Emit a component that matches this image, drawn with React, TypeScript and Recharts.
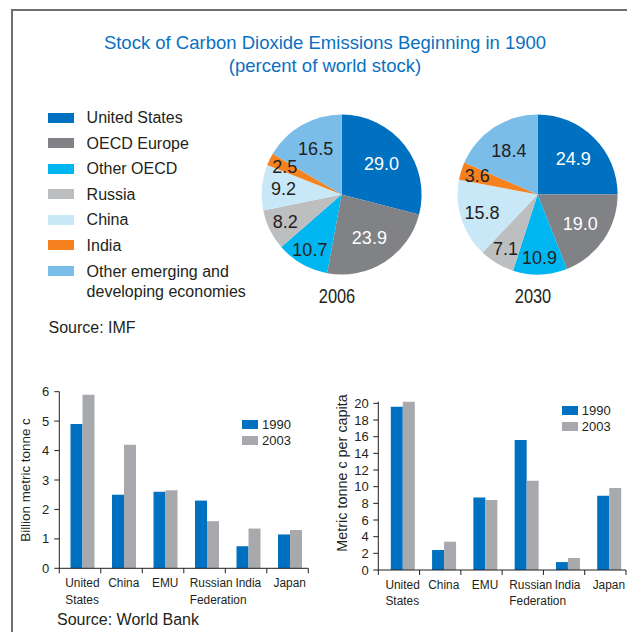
import React from 'react';
import { PieChart, Pie, Cell, BarChart, Bar, XAxis, YAxis } from 'recharts';

// ---------- data ----------
const regions = [
  'United States',
  'OECD Europe',
  'Other OECD',
  'Russia',
  'China',
  'India',
  'Other emerging and developing economies',
];
const share2006 = [29.0, 23.9, 10.7, 8.2, 9.2, 2.5, 16.5];
const share2030 = [24.9, 19.0, 10.9, 7.1, 15.8, 3.6, 18.4];
const pieYears = ['2006', '2030'];

const countries = ['United States', 'China', 'EMU', 'Russian Federation', 'India', 'Japan'];
const total1990 = [4.9, 2.5, 2.6, 2.3, 0.75, 1.15];
const total2003 = [5.9, 4.2, 2.65, 1.6, 1.35, 1.3];
const perCapita1990 = [19.6, 2.4, 8.7, 15.6, 0.95, 8.9];
const perCapita2003 = [20.2, 3.4, 8.4, 10.7, 1.45, 9.85];
const barYears = ['1990', '2003'];
const totalTicks = [0, 1, 2, 3, 4, 5, 6];
const perCapitaTicks = [0, 2, 4, 6, 8, 10, 12, 14, 16, 18, 20];

const title1 = 'Stock of Carbon Dioxide Emissions Beginning in 1900';
const title2 = '(percent of world stock)';
const sourceTop = 'Source: IMF';
const sourceBottom = 'Source: World Bank';
const yLabelTotal = 'Billion metric tonne c';
const yLabelPerCapita = 'Metric tonne c per capita';

// ---------- style ----------
const regionColors = ['#0070c0', '#808285', '#00b6f0', '#bcbec0', '#c8e8f8', '#f5821f', '#7abde8'];
const regionLabelColors = ['#ffffff', '#ffffff', '#231f20', '#231f20', '#231f20', '#231f20', '#231f20'];
const labelRadius = [0.63, 0.645, 0.8, 0.785, 0.73, 0.79, 0.655];
const barColors = ['#0070c0', '#a7a9ac'];
const FONT = '"Liberation Sans", Arial, Helvetica, sans-serif';
const INK = '#231f20';
const TITLE_BLUE = '#0a70c2';
const RAD = Math.PI / 180;

const pieData = [share2006, share2030].map((arr) =>
  arr.map((v, i) => ({ name: regions[i], value: v }))
);

const totalData = countries.map((c, i) => ({ country: c, y1990: total1990[i], y2003: total2003[i] }));
const perCapitaData = countries.map((c, i) => ({ country: c, y1990: perCapita1990[i], y2003: perCapita2003[i] }));

const renderPieLabel = (props: any) => {
  const { cx, cy, midAngle, outerRadius, index, value } = props;
  const r = outerRadius * labelRadius[index];
  const x = cx + r * Math.cos(-midAngle * RAD);
  const y = cy + r * Math.sin(-midAngle * RAD);
  return (
    <text
      x={x}
      y={y}
      textAnchor="middle"
      dominantBaseline="central"
      fill={regionLabelColors[index]}
      fontSize={18}
      fontFamily={FONT}
    >
      {Number(value).toFixed(1)}
    </text>
  );
};

function makeCategoryTick(band: number, shift: number, last: string) {
  return (props: any) => {
    const { x, y, payload } = props;
    const words = String(payload.value).split(' ');
    const left = x - shift - band / 2;
    const right = x - shift + band / 2;
    const multi = words.length > 1;
    const tx = multi ? x - 17 : x;
    return (
      <g>
        <line x1={left} y1={y} x2={left} y2={y + 5} stroke={INK} strokeWidth={1} />
        {payload.value === last && (
          <line x1={right} y1={y} x2={right} y2={y + 5} stroke={INK} strokeWidth={1} />
        )}
        <text
          transform={`translate(${tx},${y + 18.5}) scale(0.88,1)`}
          x={0}
          y={0}
          textAnchor={multi ? 'start' : 'middle'}
          fontSize={13.5}
          fontFamily={FONT}
          fill={INK}
        >
          {words.map((w, i) => (
            <tspan key={i} x={0} dy={i === 0 ? 0 : 17}>
              {w}
            </tspan>
          ))}
        </text>
      </g>
    );
  };
}

type PanelProps = {
  left: number;
  data: any[];
  width: number;
  height: number;
  margin: { top: number; right: number; bottom: number; left: number };
  yWidth: number;
  domain: [number, number];
  ticks: number[];
  band: number;
  shift: number;
  tickMargin: number;
};

function BarPanel(p: PanelProps) {
  return (
    <div style={{ position: 'absolute', left: p.left, top: 370 }}>
      <BarChart width={p.width} height={p.height} data={p.data} margin={p.margin} barGap={0} barSize={12}>
        <XAxis
          dataKey="country"
          height={40}
          interval={0}
          tickLine={false}
          tickSize={0}
          tickMargin={0}
          axisLine={{ stroke: INK, strokeWidth: 1 }}
          padding={{ left: p.shift, right: -p.shift }}
          tick={makeCategoryTick(p.band, p.shift, countries[countries.length - 1])}
        />
        <YAxis
          type="number"
          domain={p.domain}
          ticks={p.ticks}
          interval={0}
          width={p.yWidth}
          tickSize={5}
          tickMargin={p.tickMargin}
          axisLine={{ stroke: INK, strokeWidth: 1 }}
          tickLine={{ stroke: INK, strokeWidth: 1 }}
          tick={{ fill: INK, fontSize: 13, fontFamily: FONT }}
        />
        <Bar dataKey="y1990" fill={barColors[0]} isAnimationActive={false} />
        <Bar dataKey="y2003" fill={barColors[1]} isAnimationActive={false} />
      </BarChart>
    </div>
  );
}

function BarLegend({ left, top, gap }: { left: number; top: number; gap: number }) {
  return (
    <div style={{ position: 'absolute', left, top }}>
      {barYears.map((yr, i) => (
        <div key={yr} style={{ display: 'flex', alignItems: 'center', height: gap }}>
          <div style={{ width: 16, height: 9, background: barColors[i], marginRight: 4 }} />
          <span style={{ fontSize: 13, fontFamily: FONT, color: INK, lineHeight: '14px' }}>{yr}</span>
        </div>
      ))}
    </div>
  );
}

function RotatedLabel({ cx, cy, text, size }: { cx: number; cy: number; text: string; size: number }) {
  return (
    <div
      style={{
        position: 'absolute',
        left: cx,
        top: cy,
        transform: 'translate(-50%, -50%) rotate(-90deg)',
        whiteSpace: 'nowrap',
        fontSize: size,
        fontFamily: FONT,
        color: INK,
        lineHeight: `${size}px`,
      }}
    >
      {text}
    </div>
  );
}

export default function App() {
  const pieCenters = [336.6, 532.6];
  return (
    <div
      style={{
        position: 'absolute',
        left: 0,
        top: 0,
        width: 627,
        height: 632,
        background: '#fff',
        overflow: 'hidden',
        fontFamily: FONT,
      }}
    >
      {/* frame */}
      <div
        style={{
          position: 'absolute',
          left: 10.5,
          top: 9.3,
          width: 640,
          height: 640,
          borderTop: '2px solid #6d6e71',
          borderLeft: '2px solid #6d6e71',
        }}
      />
      {/* title */}
      <div
        style={{
          position: 'absolute',
          left: 75,
          width: 500,
          top: 32,
          textAlign: 'center',
          color: TITLE_BLUE,
          fontSize: 18.5,
          lineHeight: '22.5px',
        }}
      >
        <div>{title1}</div>
        <div>{title2}</div>
      </div>

      {/* pie legend */}
      <div style={{ position: 'absolute', left: 47.6, top: 108 }}>
        {regions.map((r, i) => (
          <div key={r} style={{ display: 'flex', alignItems: 'flex-start', height: 25.6 }}>
            <div
              style={{
                width: 26.5,
                height: 10,
                marginTop: 4.5,
                background: regionColors[i],
                flex: 'none',
              }}
            />
            <div
              style={{
                marginLeft: 12.5,
                width: 165,
                fontSize: 16,
                lineHeight: '20px',
                color: INK,
              }}
            >
              {r}
            </div>
          </div>
        ))}
      </div>
      <div style={{ position: 'absolute', left: 48.5, top: 317.5, fontSize: 16, lineHeight: '20px', color: INK }}>
        {sourceTop}
      </div>

      {/* pies */}
      <div style={{ position: 'absolute', left: 0, top: 0 }}>
        <PieChart width={627} height={300}>
          {pieData.map((d, k) => (
            <Pie
              key={pieYears[k]}
              data={d}
              dataKey="value"
              nameKey="name"
              cx={pieCenters[k]}
              cy={189.5}
              outerRadius={80}
              startAngle={90}
              endAngle={-270}
              stroke="none"
              label={renderPieLabel}
              labelLine={false}
              isAnimationActive={false}
            >
              {d.map((_, i) => (
                <Cell key={i} fill={regionColors[i]} />
              ))}
            </Pie>
          ))}
        </PieChart>
      </div>
      {pieYears.map((yr, k) => (
        <div
          key={yr}
          style={{
            position: 'absolute',
            left: pieCenters[k] - 40,
            width: 80,
            top: 284,
            textAlign: 'center',
            fontSize: 20,
            lineHeight: '24px',
            color: INK,
            transform: 'scaleX(0.82)',
          }}
        >
          {yr}
        </div>
      ))}

      {/* bar panels */}
      <BarPanel
        left={0}
        data={totalData}
        width={320}
        height={262}
        margin={{ top: 21.7, right: 11.7, bottom: 23.7, left: 0 }}
        yWidth={59.3}
        domain={[0, 6]}
        ticks={totalTicks}
        band={41.5}
        shift={2.2}
        tickMargin={5}
      />
      <RotatedLabel cx={26.2} cy={480} text={yLabelTotal} size={13.4} />
      <BarLegend left={242} top={416.5} gap={16} />

      <BarPanel
        left={320}
        data={perCapitaData}
        width={307}
        height={262}
        margin={{ top: 31.7, right: 1, bottom: 22, left: 0 }}
        yWidth={58.3}
        domain={[0, 20.2]}
        ticks={perCapitaTicks}
        band={41.28}
        shift={3.5}
        tickMargin={4.5}
      />
      <RotatedLabel cx={342} cy={472.5} text={yLabelPerCapita} size={14.4} />
      <BarLegend left={561.7} top={403} gap={15.7} />

      <div style={{ position: 'absolute', left: 57, top: 610, fontSize: 16, lineHeight: '20px', color: INK }}>
        {sourceBottom}
      </div>
    </div>
  );
}
